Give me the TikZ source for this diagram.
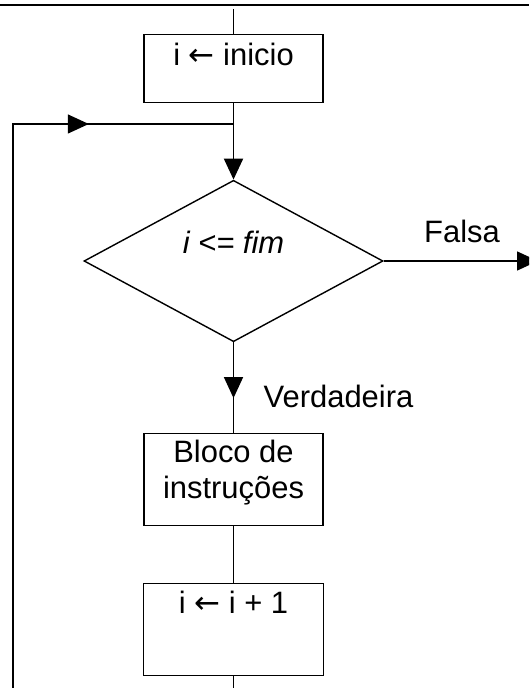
\documentclass[tikz,border=0pt]{standalone}
\usepackage{fontspec}
\setmainfont{Liberation Sans}
\newfontfamily\arrowfont{DejaVu Sans}
\usepackage{tikz}
\usetikzlibrary{arrows.meta,positioning,shapes.geometric,decorations.markings}
\newlength\pxu
\setlength\pxu{0.025cm}
\newcommand\atrib{{\arrowfont ←}}

\begin{document}
\begin{tikzpicture}[
    x=0.025cm, y=-0.025cm,
    line width=1pt,
    font=\fontsize{22}{25.6}\selectfont,
    % 矩形框
    block/.style={
        draw, rectangle,
        inner sep=0pt,
        minimum width=179\pxu},
    % 判断框
    decision/.style={
        draw, diamond,
        inner sep=0pt,
        minimum width=299\pxu,
        minimum height=151\pxu},
    % 箭头
    tip/.style={-{Triangle[length=14.9pt,width=13.5pt]}},
    midtip/.style={postaction={decorate},
        decoration={markings,
            mark=at position #1 with {\arrow{Triangle[length=14.9pt,width=13.5pt]}}}}]
  \useasboundingbox (0,0) rectangle (529,688);
  \clip (0,0) rectangle (529,688);
  \draw[line width=2.1pt] (0,5) -- (529,5);%顶部横线

  \coordinate (entry) at (233.5,9);
  \node (init) [block, anchor=north, text height=31\pxu, text depth=37\pxu] at (233.5,34) {i \atrib{} inicio};
  \coordinate (junc) at (233.5,124);
  \node (cond) [decision, text height=22\pxu, text depth=38\pxu] at (233.5,261) {\itshape i <= fim};
  \node (body) [block, anchor=north, align=center, text height=65\pxu, text depth=27\pxu] at (233.5,433) {Bloco de\\instruções};
  \node (incr) [block, anchor=north, minimum width=180\pxu, text height=30\pxu, text depth=62\pxu] at (233.5,583) {i \atrib{} i + 1};
  \coordinate (exitF) at (538,261);
  \coordinate (exitB) at (233.5,690);
  \coordinate (loopin) at (13,690);

  \node (falsa) [anchor=base] at (462,243) {Falsa};
  \node (verd) [anchor=base west, inner sep=0pt] at (263,407) {Verdadeira};

  \draw (entry) -- (init.north);
  \draw (init.south) -- (junc);
  \draw[tip, line width=1.4pt] (junc) -- (cond.north);
  \draw[tip] (cond.east) -- (exitF);
  \draw[midtip=0.615] (cond.south) -- (body.north);
  \draw (body.south) -- (incr.north);
  \draw (incr.south) -- (exitB);
  \draw[midtip=0.816] (loopin) |- (junc);%回到判断
\end{tikzpicture}
\end{document}
